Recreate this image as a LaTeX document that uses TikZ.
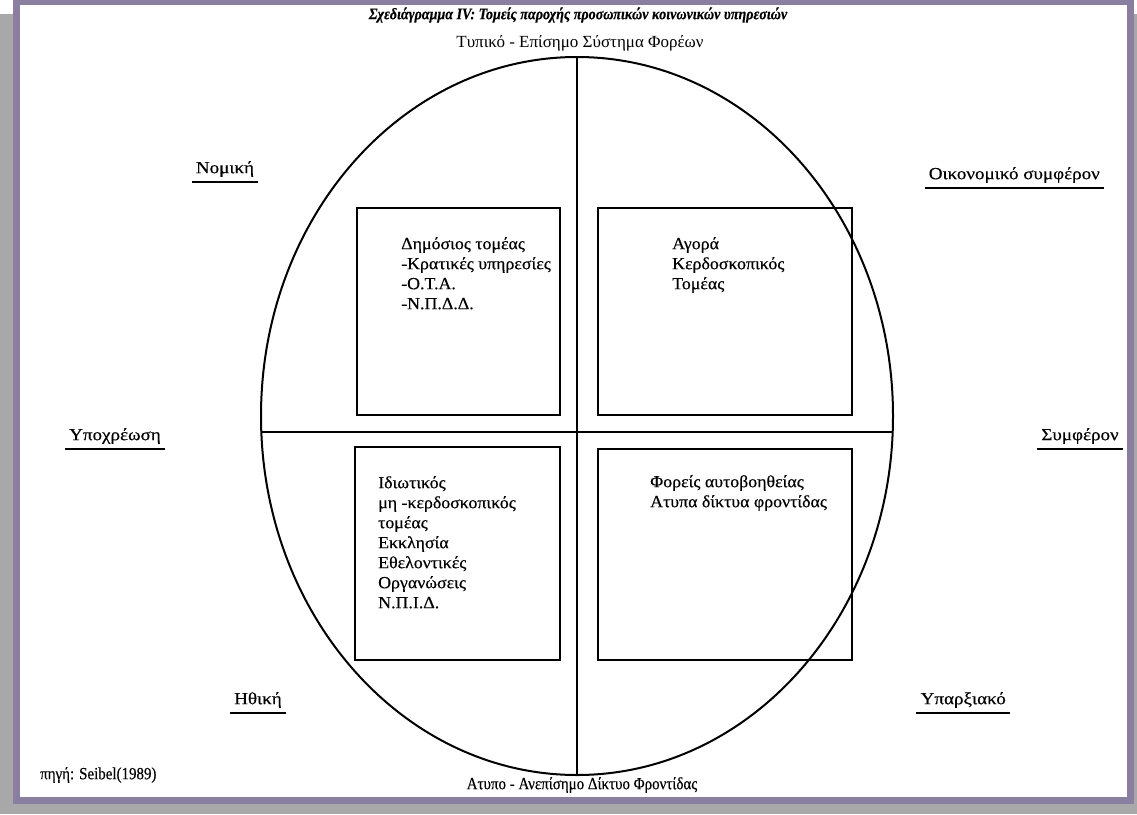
\documentclass[tikz,border=0pt]{standalone}
\usepackage{fontspec}
\setmainfont{Liberation Serif}
\newfontfamily\widefont[FakeStretch=1.12,FakeBold=0.4]{Liberation Serif}
\newfontfamily\boxfont[FakeStretch=1.05,FakeBold=0.4]{Liberation Serif}
\newfontfamily\condfont[FakeStretch=0.88,FakeBold=0.3]{Liberation Serif}
\usetikzlibrary{shapes.geometric}
\definecolor{framepurple}{HTML}{8A7FA0}
\definecolor{shadowgray}{HTML}{A8A8A8}
\begin{document}
\begin{tikzpicture}[x=1pt,y=-1pt,
  boxtext/.style={font=\boxfont\fontsize{17}{20}\selectfont, align=left, anchor=north west, inner sep=0pt},
  sector/.style={draw, line width=1.6pt, inner sep=0pt},
  axislabel/.style={font=\widefont\fontsize{17}{18}\selectfont, inner xsep=4pt, inner ysep=5pt},
  uline/.style={line width=1.6pt},
  poletext/.style={font=\fontsize{17}{18}\selectfont, inner sep=0pt}
]
\useasboundingbox (0,0) rectangle (1137,814);
% frame
\fill[shadowgray] (0,14) rectangle (1137,814);
\fill[framepurple] (13,0) rectangle (1134,804);
\fill[white] (20,5) rectangle (1127,797);

% title and poles
\node (title) [inner sep=0pt] at (578,15) {\condfont\fontsize{16}{18}\selectfont\bfseries\itshape Σχεδιάγραμμα IV: Τομείς παροχής προσωπικών κοινωνικών υπηρεσιών};
\node (top) [poletext] at (580,43) {Τυπικό - Επίσημο Σύστημα Φορέων};
\node (bottom) [poletext] at (582,785) {\condfont Ατυπο - Ανεπίσημο Δίκτυο Φροντίδας};
\node (src) [poletext, anchor=west] at (40,775) {\condfont πηγή: Seibel(1989)};

% circle and axes
\node (circ) [draw, ellipse, line width=2pt, minimum width=632pt, minimum height=718pt, inner sep=0pt, outer sep=0pt] at (577,416) {};
\coordinate (hl) at (262,432);
\coordinate (hr) at (893,432);
\draw[line width=1.4pt] (circ.north) -- (circ.south);
\draw[line width=1.4pt] (hl) -- (hr);

% sector boxes
\node (tl) [sector, minimum width=203pt, minimum height=207pt] at (458.5,311.5) {};
\node (tr) [sector, minimum width=254pt, minimum height=207pt] at (725,311.5) {};
\node (bl) [sector, minimum width=205pt, minimum height=213pt] at (457.5,553.5) {};
\node (br) [sector, minimum width=254pt, minimum height=211pt] at (725,554.5) {};

\node (tltext) [boxtext] at (401,237) {Δημόσιος τομέας\\-Κρατικές υπηρεσίες\\-Ο.Τ.Α.\\-Ν.Π.Δ.Δ.};
\node (trtext) [boxtext] at (672,237) {Αγορά\\Κερδοσκοπικός\\Τομέας};
\node (bltext) [boxtext] at (378,476) {Ιδιωτικός\\μη -κερδοσκοπικός\\τομέας\\Εκκλησία\\Εθελοντικές\\Οργανώσεις\\Ν.Π.Ι.Δ.};
\node (brtext) [boxtext] at (650,475) {Φορείς αυτοβοηθείας\\Ατυπα δίκτυα φροντίδας};

% axis labels
\node (nom) [axislabel] at (225,169) {Νομική};
\draw[uline] (nom.south west) -- (nom.south east);
\node (oik) [axislabel, anchor=east] at (1104,175) {Οικονομικό συμφέρον};
\draw[uline] (oik.south west) -- (oik.south east);
\node (ypo) [axislabel] at (115,436) {Υποχρέωση};
\draw[uline] (ypo.south west) -- (ypo.south east);
\node (sym) [axislabel] at (1080,436) {Συμφέρον};
\draw[uline] (sym.south west) -- (sym.south east);
\node (ith) [axislabel] at (258,700) {Ηθική};
\draw[uline] (ith.south west) -- (ith.south east);
\node (ypa) [axislabel, anchor=east] at (1010,700) {Υπαρξιακό};
\draw[uline] (ypa.south west) -- (ypa.south east);
\end{tikzpicture}
\end{document}
